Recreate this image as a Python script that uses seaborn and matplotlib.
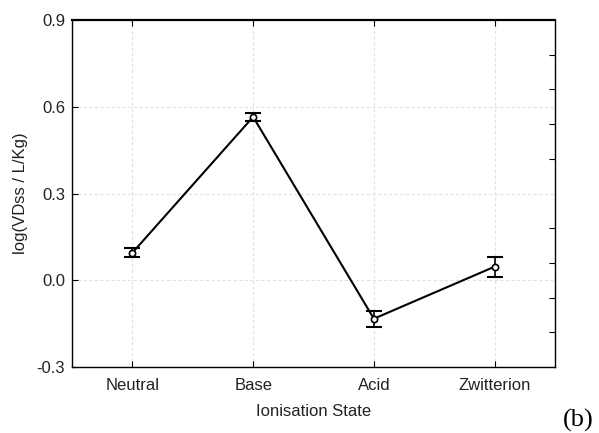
import matplotlib
matplotlib.use("Agg")
import matplotlib.pyplot as plt
import seaborn as sns
import numpy as np
import pandas as pd

categories = ["Neutral", "Base", "Acid", "Zwitterion"]
means = [0.095, 0.565, -0.133, 0.047]
errors = [0.015, 0.013, 0.027, 0.035]
y_ticks = [-0.3, 0.0, 0.3, 0.6, 0.9]
y_tick_labels = ["-0.3", "0.0", "0.3", "0.6", "0.9"]

sns.set_theme(style="white")
plt.rcParams["font.family"] = ["Liberation Sans", "DejaVu Sans"]

df = pd.DataFrame({"pos": np.arange(len(categories)), "mean": means, "err": errors})

fig = plt.figure(figsize=(5.99, 4.33), dpi=100)
ax = fig.add_axes([72/599, 1-367/433, (555-72)/599, (367-20)/433])

sns.lineplot(data=df, x="pos", y="mean", ax=ax, color="black", linewidth=1.5,
             marker="o", markersize=4.5, markerfacecolor="white",
             markeredgecolor="black", markeredgewidth=1.2, zorder=3)
ax.errorbar(df["pos"], df["mean"], yerr=df["err"], fmt="none", ecolor="black",
            elinewidth=1.2, capsize=6, capthick=1.5, zorder=2)

ax.set_xlim(-0.5, 3.5)
ax.set_ylim(-0.3, 0.9)
ax.set_xticks(df["pos"])
ax.set_xticklabels(categories, fontsize=12)
ax.set_yticks(y_ticks)
ax.set_yticklabels(y_tick_labels, fontsize=12)
ax.grid(True, color="#e2e2e2", linestyle=(0, (3, 2)), linewidth=0.8)
ax.set_axisbelow(True)

for s in ax.spines.values():
    s.set_color("black")
    s.set_linewidth(1.0)
ax.spines["top"].set_linewidth(1.6)

ax.tick_params(axis="both", which="major", direction="in", length=4, width=0.8,
               color="black", bottom=True, left=True, top=True, right=False,
               labelcolor="#222222", pad=5)
ax.tick_params(axis="x", which="major", pad=8)
ax.set_yticks(np.linspace(-0.3, 0.9, 11), minor=True)
ax.tick_params(axis="y", which="minor", direction="in", length=4, width=0.8,
               left=False, right=True, color="black")

ax.set_xlabel("Ionisation State", fontsize=12, color="#222222", labelpad=8)
ax.set_ylabel("log(VDss / L/Kg)", fontsize=12, color="#222222", labelpad=6)

fig.text(578/599, 1-420/433, "(b)", fontsize=19, family="Liberation Serif",
         ha="center", va="center", color="black")

fig.savefig("out.png", dpi=100)
